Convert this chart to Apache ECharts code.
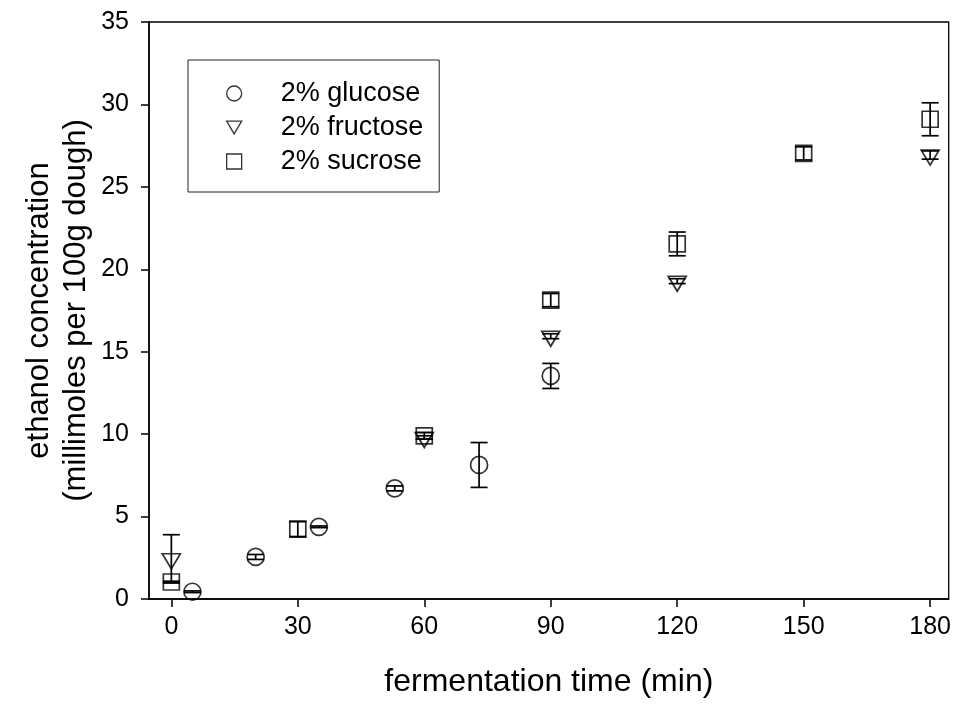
<!DOCTYPE html>
<html>
<head>
<meta charset="utf-8">
<script src="https://cdn.jsdelivr.net/npm/echarts@6/dist/echarts.min.js"></script>
<style>
html,body{margin:0;padding:0;background:#fff;}
#chart{width:954px;height:706px;}
</style>
</head>
<body>
<div id="chart"></div>
<script>
// ---- data ----
const seriesNames = ['2% glucose', '2% fructose', '2% sucrose'];

const glucoseX = [5, 20, 35, 53, 73, 90];
const glucoseY = [0.44, 2.55, 4.38, 6.71, 8.13, 13.53];
const glucoseErr = [0.05, 0.15, 0.05, 0.15, 1.36, 0.76];

const fructoseX = [0, 60, 90, 120, 180];
const fructoseY = [2.44, 9.8, 15.94, 19.28, 26.93];
const fructoseErr = [1.46, 0.1, 0.15, 0.15, 0.25];

const sucroseX = [0, 30, 60, 90, 120, 150, 180];
const sucroseY = [1.03, 4.24, 9.9, 18.13, 21.54, 27.03, 29.1];
const sucroseErr = [0.05, 0.45, 0.2, 0.4, 0.72, 0.4, 1.0];

const xTicks = [0, 30, 60, 90, 120, 150, 180];
const yTicks = [0, 5, 10, 15, 20, 25, 30, 35];

// ---- build ----
function pts(xs, ys) { return xs.map((x, i) => [x, ys[i]]); }
function errs(xs, ys, es) { return xs.map((x, i) => [x, ys[i] - es[i], ys[i] + es[i]]); }

const FONT = 'Liberation Sans, Arial, sans-serif';
const LW = 1.7;

function errorSeries(data) {
  return {
    type: 'custom',
    data: data,
    z: 5,
    silent: true,
    encode: { x: 0, y: [1, 2] },
    renderItem: function (params, api) {
      const x = api.value(0), lo = api.value(1), hi = api.value(2);
      const a = api.coord([x, lo]), b = api.coord([x, hi]);
      const w = 8.5;
      const st = { stroke: '#000', lineWidth: LW };
      return {
        type: 'group',
        children: [
          { type: 'line', shape: { x1: a[0], y1: a[1], x2: b[0], y2: b[1] }, style: st },
          { type: 'line', shape: { x1: a[0] - w, y1: a[1], x2: a[0] + w, y2: a[1] }, style: st },
          { type: 'line', shape: { x1: b[0] - w, y1: b[1], x2: b[0] + w, y2: b[1] }, style: st }
        ]
      };
    }
  };
}

const markerStyle = { color: 'rgba(255,255,255,0)', borderColor: '#000', borderWidth: LW };

const option = {
  animation: false,
  backgroundColor: '#fff',
  grid: { left: 149, right: 5, top: 22, bottom: 107, show: true, borderColor: '#000', borderWidth: 1.3, containLabel: false },
  legend: {
    data: seriesNames,
    orient: 'vertical',
    left: 188,
    top: 60,
    padding: [20, 16, 17, 38],
    itemWidth: 15,
    itemHeight: 15,
    itemGap: 7,
    borderColor: '#222',
    borderWidth: 1,
    backgroundColor: '#fff',
    selectedMode: false,
    itemStyle: { color: 'rgba(255,255,255,0)', borderColor: '#000', borderWidth: 1.3 },
    formatter: function (name) { return '{s|}' + name; },
    textStyle: {
      fontFamily: FONT, fontSize: 27, color: '#000', lineHeight: 26,
      rich: { s: { width: 34 } }
    }
  },
  xAxis: {
    type: 'value',
    min: -5.3,
    max: 184.4,
    name: 'fermentation time (min)',
    nameLocation: 'middle',
    nameGap: 67,
    nameMoveOverlap: false,
    nameTextStyle: { fontFamily: FONT, fontSize: 32, color: '#000' },
    axisLine: { show: true, onZero: false, lineStyle: { color: '#000', width: 1.5 } },
    axisTick: { show: true, inside: false, length: 8, customValues: xTicks, lineStyle: { color: '#000', width: 1.5 } },
    axisLabel: { customValues: xTicks, fontFamily: FONT, fontSize: 25, color: '#000', margin: 16 },
    splitLine: { show: false }
  },
  yAxis: {
    type: 'value',
    min: 0,
    max: 35,
    interval: 5,
    name: 'ethanol concentration\n(millimoles per 100g dough)',
    nameLocation: 'middle',
    nameGap: 54,
    nameMoveOverlap: false,
    nameTextStyle: { fontFamily: FONT, fontSize: 31, color: '#000', lineHeight: 37 },
    axisLine: { show: true, onZero: false, lineStyle: { color: '#000', width: 1.5 } },
    axisTick: { show: true, inside: false, length: 8, lineStyle: { color: '#000', width: 1.5 } },
    axisLabel: { fontFamily: FONT, fontSize: 25, color: '#000', margin: 20 },
    splitLine: { show: false }
  },
  series: [
    {
      name: seriesNames[0], type: 'scatter', symbol: 'circle', symbolSize: 17,
      data: pts(glucoseX, glucoseY), itemStyle: markerStyle, z: 3
    },
    {
      name: seriesNames[1], type: 'scatter', symbol: 'path://M0,0L20,0L10,17Z', symbolSize: [18, 15],
      symbolOffset: [0, 2.5], symbolKeepAspect: false,
      data: pts(fructoseX, fructoseY), itemStyle: markerStyle, z: 3
    },
    {
      name: seriesNames[2], type: 'scatter', symbol: 'path://M0,0L10,0L10,10L0,10Z', symbolSize: 16,
      data: pts(sucroseX, sucroseY), itemStyle: markerStyle, z: 3
    },
    errorSeries(errs(glucoseX, glucoseY, glucoseErr)),
    errorSeries(errs(fructoseX, fructoseY, fructoseErr)),
    errorSeries(errs(sucroseX, sucroseY, sucroseErr))
  ]
};

const chart = echarts.init(document.getElementById('chart'), null, { renderer: 'canvas' });
chart.setOption(option);
</script>
</body>
</html>
